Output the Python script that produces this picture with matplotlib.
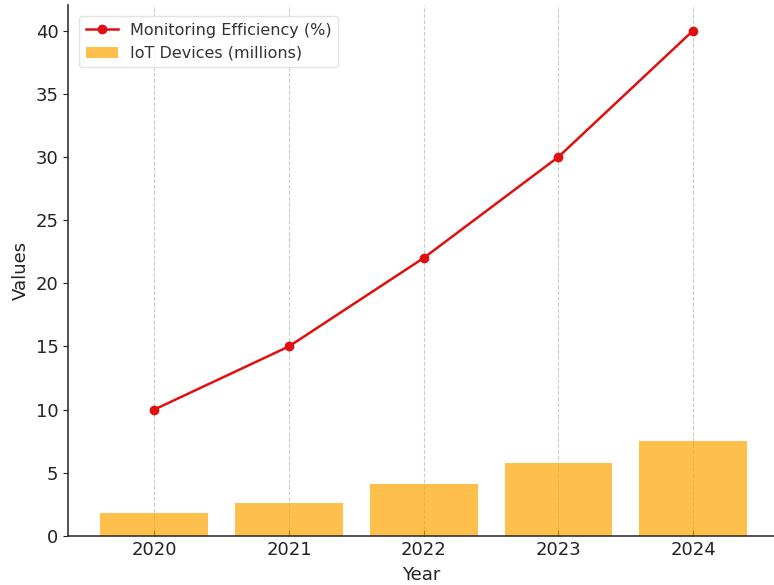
import matplotlib
matplotlib.use("Agg")
import matplotlib.pyplot as plt

years = [2020, 2021, 2022, 2023, 2024]
efficiency = [10, 15, 22, 30, 40]
iot_devices = [1.8, 2.6, 4.1, 5.8, 7.5]

fig = plt.figure(figsize=(7.74, 5.85), dpi=100)
ax = fig.add_axes([0.088, 0.084, 0.912, 0.907])

ax.bar(years, iot_devices, width=0.8, color='orange', alpha=0.7,
       label='IoT Devices (millions)', zorder=2)
ax.plot(years, efficiency, color='#e01010', marker='o', markersize=6,
        linewidth=1.8, label='Monitoring Efficiency (%)', zorder=3)

ax.set_xlim(2019.36, 2024.6)
ax.set_ylim(0, 42)
ax.set_xticks(years)
ax.set_yticks(range(0, 41, 5))
ax.tick_params(axis='both', labelsize=13, colors='#222222')
ax.tick_params(axis='x', direction='in', length=4)
ax.set_xlabel('Year', fontsize=13, color='#222222', labelpad=5)
ax.set_ylabel('Values', fontsize=13, color='#222222')
ax.xaxis.grid(True, linestyle='--', color='#cccccc', linewidth=0.8, zorder=0)
ax.set_axisbelow(True)
for s in ['top', 'right']:
    ax.spines[s].set_visible(False)
for s in ['left', 'bottom']:
    ax.spines[s].set_color('#333333')
    ax.spines[s].set_linewidth(1.2)

leg = ax.legend(loc='upper left', fontsize=11.5, frameon=True, edgecolor='#dddddd',
                borderaxespad=0.7)
for t in leg.get_texts():
    t.set_color('#333333')

fig.savefig('out.png', dpi=100)
